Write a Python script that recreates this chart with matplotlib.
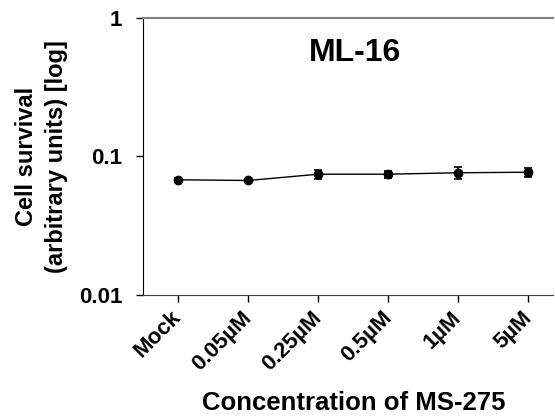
import numpy as np
import matplotlib
matplotlib.use('Agg')
import matplotlib.pyplot as plt

matplotlib.rcParams['font.family'] = ['Liberation Sans', 'DejaVu Sans']
matplotlib.rcParams['font.weight'] = 'bold'

# 数据
labels = ['Mock', '0.05µM', '0.25µM', '0.5µM', '1µM', '5µM']
survival = [0.0679, 0.0671, 0.0745, 0.0745, 0.0763, 0.0770]
err = [0.0016, 0.0020, 0.0055, 0.0040, 0.0075, 0.0060]

fig = plt.figure(figsize=(5.55, 4.16), dpi=100)
ax = fig.add_axes([0.2577, 0.2909, 0.7387, 0.6658])

x = np.arange(len(labels))
ax.errorbar(x, survival, yerr=err, fmt='o-', color='black', markersize=6,
            linewidth=1, elinewidth=1.2, capsize=3, capthick=1.2)

ax.set_yscale('log')
ax.set_ylim(0.01, 1)
ax.set_xlim(-0.5, 5.35)
ax.set_yticks([0.01, 0.1, 1])
ax.set_yticklabels(['0.01', '0.1', '1'], fontsize=16, fontweight='bold')
ax.minorticks_off()
ax.set_xticks(x)
ax.set_xticklabels(labels, rotation=45, ha='right', va='center',
                   rotation_mode='anchor', fontsize=16, fontweight='bold')
ax.tick_params(axis='both', direction='out', length=5, width=1)
ax.tick_params(axis='y', pad=10)
ax.tick_params(axis='x', pad=9)

ax.spines['right'].set_visible(False)
ax.spines['top'].set_color('#808080')
ax.spines['top'].set_linewidth(1.5)
ax.spines['left'].set_color('black')
ax.spines['bottom'].set_color('#404040')

ax.text(0.516, 0.875, 'ML-16', transform=ax.transAxes, ha='center', va='center',
        fontsize=23, fontweight='bold')
ax.set_ylabel('Cell survival\n(arbitrary units) [log]', fontsize=17,
              fontweight='bold', labelpad=8, linespacing=1.35)
fig.text(0.638, 0.031, 'Concentration of MS-275', ha='center', va='center',
         fontsize=18.5, fontweight='bold')

plt.savefig('out.png', dpi=100)
